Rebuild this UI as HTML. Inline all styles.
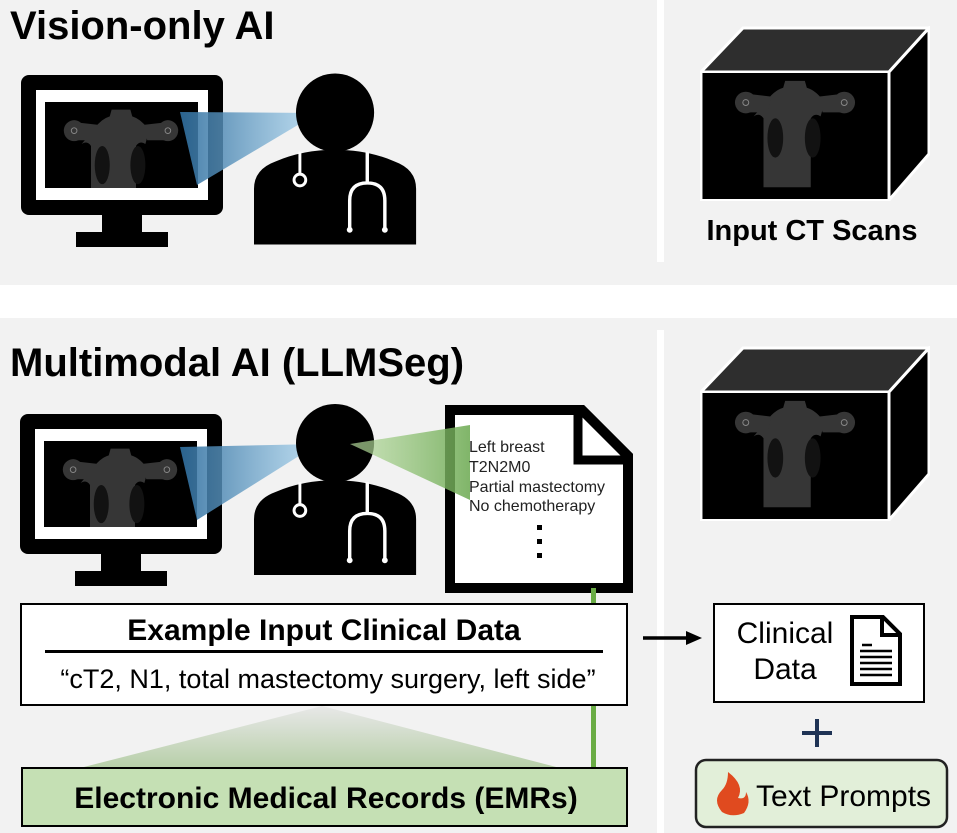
<!DOCTYPE html>
<html><head><meta charset="utf-8"><style>
html,body{margin:0;padding:0;background:#fff}
svg{display:block}
text{font-family:"Liberation Sans",Arial,sans-serif}
</style></head><body>
<svg width="957" height="833" viewBox="0 0 957 833" xmlns="http://www.w3.org/2000/svg">
<defs>
<symbol id="ct" viewBox="0 0 188 128">
<rect width="188" height="128" fill="#000"/>
<g fill="#363636">
<path d="M64 30 Q72 18 82 15 L84 8 L104 8 L106 15 Q116 18 124 30 L120 44 Q114 40 110 46 L110 116 L62 116 L62 46 Q58 40 52 44 Z"/>
<circle cx="44" cy="30" r="11"/><circle cx="144" cy="30" r="11"/>
<path d="M44 21 L70 24 L66 40 L44 40Z"/><path d="M144 21 L118 24 L122 40 L144 40Z"/>
</g>
<g fill="#121212"><ellipse cx="74" cy="66" rx="8" ry="20"/><ellipse cx="112" cy="66" rx="8" ry="20"/></g>
<circle cx="44" cy="30" r="3" fill="none" stroke="#888" stroke-width="1"/><circle cx="144" cy="30" r="3" fill="none" stroke="#888" stroke-width="1"/>
</symbol>
<linearGradient id="blue" x1="0" x2="1"><stop offset="0" stop-color="#2f6e9e"/><stop offset="1" stop-color="#a8d4ef" stop-opacity=".8"/></linearGradient>
<linearGradient id="green" x1="1" x2="0"><stop offset="0" stop-color="#6aa84f"/><stop offset="1" stop-color="#b8dca0" stop-opacity=".8"/></linearGradient>
<linearGradient id="tri" x1="0" y1="0" x2="0" y2="1"><stop offset="0" stop-color="#e8e8e8"/><stop offset="1" stop-color="#b7cfa8"/></linearGradient>
<symbol id="monitor" viewBox="0 0 202 172">
<rect x="0" y="0" width="202" height="140" rx="8" fill="#000"/>
<rect x="15" y="15" width="172" height="110" fill="#fff"/>
<rect x="24" y="27" width="153" height="86" fill="#000"/>
<svg x="40" y="27" width="120" height="86" viewBox="30 0 128 90" preserveAspectRatio="none"><use href="#ct" width="188" height="128"/></svg>
<rect x="81" y="140" width="40" height="18" fill="#000"/>
<rect x="55" y="157" width="92" height="15" fill="#000"/>
</symbol>
<symbol id="doc" viewBox="0 0 170 175">
<circle cx="83" cy="40" r="40" fill="#000"/>
<path d="M0 175 L0 118 Q0 98 22 90 Q50 78 83 78 Q116 78 144 90 Q166 98 166 118 L166 175Z" fill="#000"/>
<path d="M47 80 L47 102" stroke="#fff" stroke-width="3" fill="none"/>
<circle cx="47" cy="109" r="6" fill="none" stroke="#fff" stroke-width="3"/>
<path d="M116 80 L116 112 Q134 112 134 130 L134 160 M116 112 Q98 112 98 130 L98 160" stroke="#fff" stroke-width="3.5" fill="none"/>
<circle cx="98" cy="160" r="3" fill="#fff"/><circle cx="134" cy="160" r="3" fill="#fff"/>
</symbol>
<symbol id="cube" viewBox="0 0 230 175">
<polygon points="1,46 43,2 229,2 189,46" fill="#2e2e2e" stroke="#fff" stroke-width="3"/>
<polygon points="189,46 229,2 229,128 189,174" fill="#000" stroke="#fff" stroke-width="3"/>
<rect x="1" y="46" width="188" height="128" fill="#000" stroke="#fff" stroke-width="3"/>
<use href="#ct" x="2" y="47" width="186" height="126"/>
</symbol>
</defs>
<rect width="957" height="833" fill="#f2f2f2"/>
<rect x="657" y="0" width="7" height="262" fill="#fff"/>
<rect x="0" y="285" width="957" height="33" fill="#fff"/>
<rect x="657" y="330" width="7" height="503" fill="#fff"/>

<text x="10" y="39" font-size="40" font-weight="bold">Vision-only AI</text>
<use href="#monitor" x="21" y="75" width="202" height="172"/>
<polygon points="180,112 318,113 197,185" fill="url(#blue)" opacity=".9"/>
<use href="#doc" x="254" y="72" width="166" height="174"/>
<use href="#cube" x="700" y="26" width="230" height="175"/>
<text x="812" y="240" font-size="29" font-weight="bold" text-anchor="middle">Input CT Scans</text>

<text x="10" y="376" font-size="40" font-weight="bold">Multimodal AI (LLMSeg)</text>
<use href="#monitor" x="20" y="410" width="202" height="180"/>
<polygon points="180,447 318,444 197,520" fill="url(#blue)" opacity=".9"/>
<use href="#doc" x="254" y="402" width="166" height="175"/>
<path d="M450 410 L582 410 L628 456 L628 588 L450 588Z" fill="#fff" stroke="#000" stroke-width="10" stroke-linejoin="miter"/>
<path d="M578 412 L578 460 L626 460" fill="none" stroke="#000" stroke-width="9"/>
<polygon points="350,444 470,425 470,500" fill="url(#green)" opacity=".85"/>
<g font-size="16" fill="#222" transform="translate(469 0) scale(1.0 1)"><text x="0" y="452">Left breast</text><text x="0" y="472">T2N2M0</text><text x="0" y="492">Partial mastectomy</text><text x="0" y="511">No chemotherapy</text></g>
<g fill="#000"><rect x="537" y="525" width="5" height="5"/><rect x="537" y="539" width="5" height="5"/><rect x="537" y="553" width="5" height="5"/></g>
<rect x="591" y="588" width="5" height="180" fill="#6aac45"/>
<polygon points="322,706 80,768 560,768" fill="url(#tri)"/>
<rect x="21" y="604" width="606" height="101" fill="#fff" stroke="#000" stroke-width="2"/>
<text x="324" y="640" font-size="30" font-weight="bold" text-anchor="middle">Example Input Clinical Data</text>
<rect x="45" y="650" width="558" height="3" fill="#000"/>
<text x="328" y="688" font-size="27" text-anchor="middle">“cT2, N1, total mastectomy surgery, left side”</text>
<rect x="22" y="768" width="605" height="58" fill="#c5e0b4" stroke="#000" stroke-width="2"/>
<text x="326" y="808" font-size="30" font-weight="bold" text-anchor="middle">Electronic Medical Records (EMRs)</text>

<use href="#cube" x="700" y="346" width="230" height="175"/>
<path d="M643 638 L688 638" stroke="#000" stroke-width="3.5"/>
<polygon points="686,631 702,638 686,645" fill="#000"/>
<rect x="714" y="604" width="210" height="98" fill="#fff" stroke="#000" stroke-width="2"/>
<text x="785" y="643" font-size="30" text-anchor="middle">Clinical</text>
<text x="785" y="679" font-size="30" text-anchor="middle">Data</text>
<path d="M852 617 L883 617 L900 634 L900 684 L852 684Z" fill="#fff" stroke="#000" stroke-width="4"/>
<path d="M882 618 L882 635 L899 635" fill="none" stroke="#000" stroke-width="4"/>
<g stroke="#000" stroke-width="2.5"><path d="M862 645 L872 645 M860 651 L892 651 M860 657 L892 657 M860 663 L892 663 M860 669 L892 669 M860 675 L892 675"/></g>
<path d="M817 719 L817 747 M802 733 L832 733" stroke="#1f3355" stroke-width="4"/>
<rect x="696" y="760" width="251" height="67" rx="10" fill="#e2efd9" stroke="#222" stroke-width="2.5"/>
<path d="M728 772 Q745 785 738 798 Q746 800 746 792 Q752 802 744 813 Q732 818 722 812 Q712 800 722 790 Q728 784 728 772Z" fill="#e04a1f"/>
<text x="756" y="806" font-size="30">Text Prompts</text>
</svg>
</body></html>
